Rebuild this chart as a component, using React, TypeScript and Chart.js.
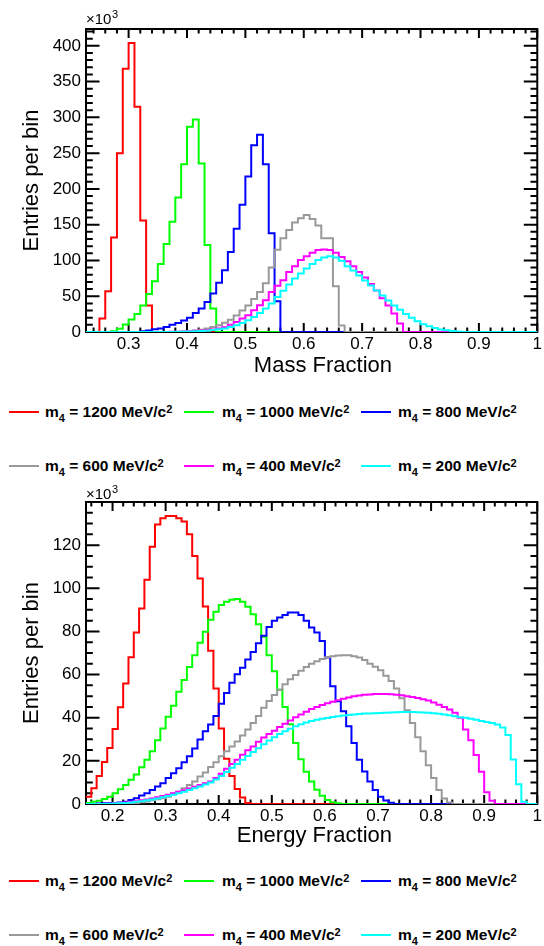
import React, { useEffect, useRef } from 'react';
import { Chart, registerables } from 'chart.js';

Chart.register(...registerables);

const FONT = '"Liberation Sans", Arial, Helvetica, sans-serif';
Chart.defaults.font.family = FONT;
Chart.defaults.color = '#000';

const BIN = 0.01;

const massLabels = ['1200', '1000', '800', '600', '400', '200'];
const seriesColors = ['#ff0000', '#00ff00', '#0000ff', '#999999', '#ff00ff', '#00ffff'];

// ---- Mass Fraction (top panel), entries per bin in units of 10^3 ----
// left edge of the first listed bin for each series
const massStart = [0.25, 0.27, 0.32, 0.39, 0.37, 0.38];
const massRed = [19, 57, 132, 250, 368, 404, 315, 156, 37];
const massGreen = [1, 4.5, 10.5, 17.5, 25, 37, 53, 71, 95, 123, 154, 188, 234.5, 287, 297, 235.5, 121.5, 33];
const massBlue = [1, 2, 3.7, 5, 7, 10, 12.6, 16, 20, 26.6, 32.7, 42, 53.7, 68.7, 86.4, 111.7, 144.4, 178, 217.3, 261, 275.7, 234.6, 137.9, 43];
const massGray = [0.5, 1, 2, 3, 5, 7, 9.5, 13, 17, 23, 30, 37, 46, 56, 68, 90, 115, 131, 142.5, 153, 159, 163.5, 158, 149, 131, 131, 64, 9];
const massMagenta = [0.3, 0.5, 0.8, 1.2, 1.6, 2, 2.5, 3.5, 5, 6.5, 10, 14, 18.7, 23.4, 30.4, 37.4, 44.4, 56, 64.5, 72.4, 84, 92, 100.5, 106, 110.7, 114.5, 115.4, 114.5, 110.7, 105, 99, 92, 84, 76, 67, 58, 47, 37, 26, 12];
const massCyan = [0.3, 0.5, 0.8, 1, 1.4, 1.9, 2.8, 3.7, 5, 7, 9.3, 12.6, 16.4, 21, 26.6, 32.7, 39.7, 49, 57.5, 66.4, 74.8, 81.8, 88.8, 94.9, 100.5, 104.2, 106, 104.2, 99.5, 92, 86, 79, 72, 65, 58, 51, 44, 37, 31, 25, 20, 15, 11, 8, 5.5, 3.5, 2.3, 1.4, 0.8];

// ---- Energy Fraction (bottom panel) ----
const energyStart = [0.15, 0.15, 0.17, 0.24, 0.2, 0.2];
const energyRed = [3.4, 7.3, 13, 19.5, 26, 34.8, 44.8, 55.9, 68, 79.5, 90.6, 104, 119.3, 129.6, 132.5, 133.5, 133.5, 132.5, 131, 125, 115, 104.5, 91.5, 71, 53.5, 35, 21, 13, 7, 3, 0.5];
const energyGreen = [0.5, 1, 1.5, 2.3, 3.4, 5, 6.8, 8.8, 11.2, 13.7, 17, 20.5, 24.5, 29.5, 35, 40.5, 45.5, 52, 57.5, 63.5, 69, 74.8, 79.8, 85.4, 89.1, 92.2, 93.8, 94.7, 95, 93.8, 91.4, 88, 83.3, 77.5, 69, 61.5, 53, 45, 37, 28.3, 20.8, 15, 10.4, 6.6, 3.8, 1.8, 0.8, 0.3];
const energyBlue = [0.2, 0.3, 0.4, 0.5, 0.7, 1, 1.9, 2.7, 3.9, 5, 6.5, 8.1, 9.6, 12, 14.3, 16.6, 19.3, 22.1, 25.7, 29.9, 33.7, 36.8, 40.8, 46.5, 51.5, 56.2, 60.1, 63.2, 67, 70.5, 74.5, 78, 82, 84.9, 86.5, 87.6, 88.8, 88.8, 87.6, 84.9, 81.8, 79.5, 75.6, 67.9, 54.6, 47.6, 43, 36, 28.3, 20.5, 15.1, 10.4, 6.5, 3.4, 1.6, 0.6];
const energyGray = [0.5, 0.8, 1.2, 1.7, 2.2, 2.7, 3.4, 4.7, 5.7, 7.3, 8.8, 10.4, 12.7, 14.6, 17.1, 19.3, 22.1, 24.4, 26.7, 29, 31.7, 34.5, 37.5, 40.8, 44.6, 47.7, 50.5, 53, 55.5, 57.8, 59.8, 61.8, 63.5, 65, 66.2, 67.2, 68, 68.5, 68.8, 69, 69, 68.5, 67.9, 66.7, 65, 63.6, 62, 59.5, 57, 53.5, 49, 43.5, 37.5, 31, 24.5, 18, 12, 6.5, 2.5, 0.7];
const energyMagenta = [0.3, 0.5, 0.7, 1, 1.3, 1.7, 2.1, 2.6, 3.1, 3.7, 4.3, 5, 5.7, 6.4, 7.2, 8, 8.8, 9.6, 10.4, 12, 14, 16.3, 18.6, 20.5, 22.8, 24.9, 26.7, 28.8, 30.8, 32.5, 34, 35.7, 37.2, 38.7, 40.2, 41.5, 42.8, 44, 45, 45.9, 46.7, 47.4, 48.1, 48.8, 49.4, 49.9, 50.3, 50.6, 50.8, 51, 51, 51, 50.9, 50.7, 50.4, 50, 49.6, 49.1, 48.6, 48, 47, 46, 45, 43.8, 42.3, 40, 34.5, 29.5, 22.7, 15, 5.5, 1.5];
const energyCyan = [0.2, 0.3, 0.5, 0.7, 1, 1.3, 1.7, 2.1, 2.6, 3.1, 3.7, 4.3, 5, 5.7, 6.5, 7.3, 8.1, 9, 10, 11.3, 13, 14.8, 16.8, 18.6, 20.5, 22.3, 24.1, 25.9, 27.7, 29.4, 31, 32.4, 33.7, 34.9, 36, 37, 37.8, 38.5, 39.1, 39.5, 39.9, 40.3, 40.7, 41, 41.3, 41.5, 41.7, 41.9, 42, 42.1, 42.2, 42.3, 42.4, 42.5, 42.6, 42.6, 42.6, 42.5, 42.4, 42.3, 42.1, 41.8, 41.5, 41.1, 40.7, 40.2, 40, 39.5, 39, 38.5, 38, 37.5, 36.8, 35.5, 32, 20.6, 9.2, 1];

const massSeries = [massRed, massGreen, massBlue, massGray, massMagenta, massCyan];
const energySeries = [energyRed, energyGreen, energyBlue, energyGray, energyMagenta, energyCyan];

// histogram outline points: one point per bin left edge (stepped 'before'), closing point at hi
function histPoints(start: number, values: number[], lo: number, hi: number) {
  const n = Math.round((hi - lo) / BIN);
  const offset = Math.round((start - lo) / BIN);
  const pts: { x: number; y: number }[] = [];
  for (let i = 0; i < n; i++) {
    const idx = i - offset;
    const y = idx >= 0 && idx < values.length ? values[idx] : 0;
    pts.push({ x: +(lo + i * BIN).toFixed(4), y });
  }
  pts.push({ x: hi, y: pts[pts.length - 1].y });
  return pts;
}

type PanelProps = {
  height: number;
  plotTop: number;
  plotBottom: number;
  xMin: number;
  binLo: number;
  yMax: number;
  yStep: number;
  yMinor: number;
  xTitle: string;
  starts: number[];
  series: number[][];
  titleY: number;
  expBase: number;
};

function Panel(p: PanelProps) {
  const ref = useRef<HTMLCanvasElement>(null);
  useEffect(() => {
    const canvas = ref.current;
    if (!canvas) return;
    const datasets = p.series.map((vals, i) => ({
      label: 'm4 = ' + massLabels[i] + ' MeV/c2',
      data: histPoints(p.starts[i], vals, p.binLo, 1.0),
      borderColor: seriesColors[i],
      backgroundColor: seriesColors[i],
      borderWidth: 2,
      pointRadius: 0,
      fill: false,
      stepped: 'before' as const,
      tension: 0,
      order: p.series.length - i,
    }));

    const frameTicks = {
      id: 'frameTicks',
      beforeDatasetsDraw(chart: any) {
        const { ctx, chartArea, scales } = chart;
        const { left, right, top, bottom } = chartArea;
        const x = scales.x;
        const y = scales.y;
        ctx.save();
        ctx.strokeStyle = '#000';
        ctx.lineWidth = 2;
        ctx.lineCap = 'butt';
        ctx.beginPath();
        // x ticks (minor every 0.02, major every 0.1)
        const xMinor = 0.02;
        const i0 = Math.ceil(x.min / xMinor - 1e-6);
        const i1 = Math.floor(x.max / xMinor + 1e-6);
        for (let i = i0; i <= i1; i++) {
          const px = x.getPixelForValue(i * xMinor);
          const len = i % 5 === 0 ? 9 : 4.5;
          ctx.moveTo(px, bottom);
          ctx.lineTo(px, bottom - len);
          ctx.moveTo(px, top);
          ctx.lineTo(px, top + len);
        }
        // y ticks
        const j1 = Math.floor(y.max / p.yMinor + 1e-6);
        const per = Math.round(p.yStep / p.yMinor);
        for (let j = 0; j <= j1; j++) {
          const py = y.getPixelForValue(j * p.yMinor);
          const len = j % per === 0 ? 13.5 : 6.8;
          ctx.moveTo(left, py);
          ctx.lineTo(left + len, py);
          ctx.moveTo(right, py);
          ctx.lineTo(right - len, py);
        }
        ctx.stroke();
        ctx.strokeRect(left, top, right - left, bottom - top);
        // exponent label
        ctx.fillStyle = '#000';
        ctx.textBaseline = 'alphabetic';
        ctx.textAlign = 'left';
        ctx.font = '15px ' + FONT;
        ctx.fillText('\u00d710', left, p.expBase);
        const w = ctx.measureText('\u00d710').width;
        ctx.font = '11px ' + FONT;
        ctx.fillText('3', left + w + 0.5, p.expBase - 6);
        // x-axis title, right-aligned as in the original
        ctx.font = '22px ' + FONT;
        ctx.textAlign = 'right';
        ctx.textBaseline = 'middle';
        ctx.fillText(p.xTitle, 392, p.titleY);
        ctx.restore();
      },
    };

    const chart = new Chart(canvas, {
      type: 'line',
      data: { datasets: datasets as any },
      options: {
        animation: false,
        responsive: false,
        devicePixelRatio: 1,
        events: [],
        layout: { padding: { left: 0, right: 5, top: p.plotTop, bottom: 0 } },
        plugins: { legend: { display: false }, tooltip: { enabled: false } },
        scales: {
          x: {
            type: 'linear',
            min: p.xMin,
            max: 1,
            grid: { display: false, drawTicks: false },
            border: { display: false },
            ticks: {
              stepSize: 0.1,
              includeBounds: false,
              autoSkip: false,
              maxRotation: 0,
              padding: 2,
              font: { size: 17 },
              color: '#000',
              callback: (v: any) => String(Math.round(Number(v) * 10) / 10),
            },
            title: { display: false },
            afterFit: (s: any) => {
              s.height = p.height - p.plotBottom;
            },
          },
          y: {
            type: 'linear',
            min: 0,
            max: p.yMax,
            grid: { display: false, drawTicks: false },
            border: { display: false },
            ticks: {
              stepSize: p.yStep,
              includeBounds: false,
              padding: 5,
              font: { size: 17 },
              color: '#000',
              callback: (v: any) => (Number(v) >= p.yMax - 1e-6 ? '' : String(v)),
            },
            title: {
              display: true,
              text: 'Entries per bin',
              font: { size: 22 },
              color: '#000',
              padding: { top: 19, bottom: 0 },
            },
            afterFit: (s: any) => {
              s.width = 86;
            },
          },
        },
      } as any,
      plugins: [frameTicks],
    });
    return () => chart.destroy();
  }, []);
  return <canvas ref={ref} width={544} height={p.height} style={{ display: 'block', width: 544, height: p.height }} />;
}

const legendLineX = [9, 184, 361];
const legendTextX = [45, 222, 398];

function LegendRow({ top, idx }: { top: number; idx: number[] }) {
  return (
    <div style={{ position: 'absolute', left: 0, top, width: 544, height: 20 }}>
      {idx.map((k, c) => (
        <React.Fragment key={k}>
          <div
            style={{
              position: 'absolute',
              left: legendLineX[c],
              top: 9,
              width: 30,
              height: 0,
              borderTop: '2px solid ' + seriesColors[k],
            }}
          />
          <div
            style={{
              position: 'absolute',
              left: legendTextX[c],
              top: 0,
              height: 20,
              lineHeight: '20px',
              whiteSpace: 'nowrap',
              fontFamily: FONT,
              fontWeight: 'bold',
              fontSize: 15.5,
              color: '#000',
            }}
          >
            m<span style={{ fontSize: 11, position: 'relative', top: 4.5 }}>4</span> = {massLabels[k]} MeV/c
            <span style={{ fontSize: 11, position: 'relative', top: -4.5 }}>2</span>
          </div>
        </React.Fragment>
      ))}
    </div>
  );
}

export default function App() {
  return (
    <div style={{ position: 'absolute', left: 0, top: 0, width: 544, height: 946, background: '#fff' }}>
      <div style={{ position: 'absolute', left: 0, top: 0 }}>
        <Panel
          height={385}
          plotTop={29}
          plotBottom={332}
          xMin={0.227}
          binLo={0.22}
          yMax={423.5}
          yStep={50}
          yMinor={10}
          xTitle="Mass Fraction"
          starts={massStart}
          series={massSeries}
          titleY={366}
          expBase={24}
        />
      </div>
      <LegendRow top={402} idx={[0, 1, 2]} />
      <LegendRow top={456} idx={[3, 4, 5]} />
      <div style={{ position: 'absolute', left: 0, top: 480 }}>
        <Panel
          height={376}
          plotTop={22}
          plotBottom={324}
          xMin={0.15}
          binLo={0.15}
          yMax={140}
          yStep={20}
          yMinor={5}
          xTitle="Energy Fraction"
          starts={energyStart}
          series={energySeries}
          titleY={356}
          expBase={19.3}
        />
      </div>
      <LegendRow top={871} idx={[0, 1, 2]} />
      <LegendRow top={925} idx={[3, 4, 5]} />
    </div>
  );
}
